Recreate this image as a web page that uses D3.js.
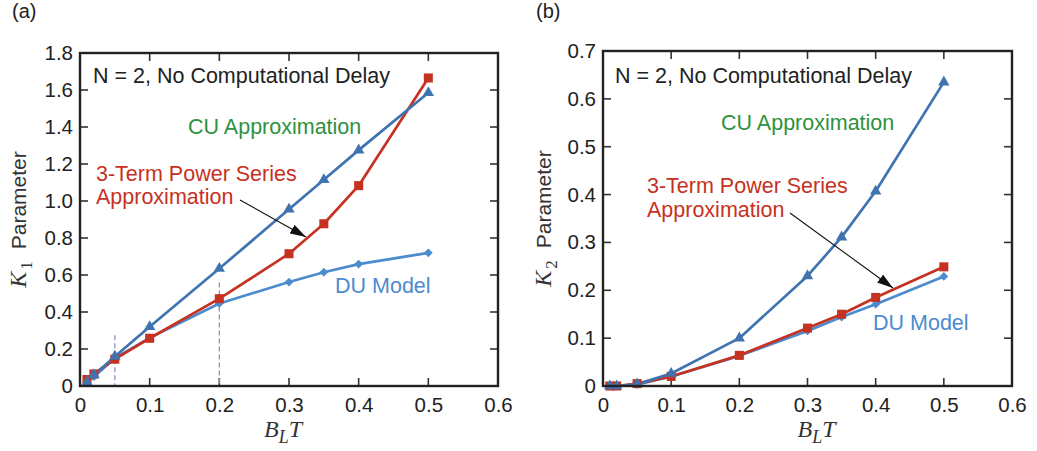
<!DOCTYPE html>
<html>
<head>
<meta charset="utf-8">
<script src="https://cdn.jsdelivr.net/npm/d3@7"></script>
<style>
  html, body { margin: 0; padding: 0; background: #fff; }
  svg { display: block; }
  text { font-family: "Liberation Sans", Arial, Helvetica, sans-serif; }
  .serif { font-family: "Liberation Serif", "Times New Roman", serif; }
</style>
</head>
<body>
<svg id="chart" width="1037" height="451"></svg>
<script>
// Loop bandwidth values (B_L T) shared by both panels
const bandwidth = [0.01, 0.02, 0.05, 0.1, 0.2, 0.3, 0.35, 0.4, 0.5];
const xTicks = [0, 0.1, 0.2, 0.3, 0.4, 0.5, 0.6];

// Panel (a): K1 parameter
const k1CU = [0.02, 0.06, 0.16, 0.32, 0.635, 0.955, 1.115, 1.275, 1.585];
const k1PowerSeries = [0.035, 0.065, 0.145, 0.258, 0.472, 0.715, 0.877, 1.083, 1.665];
const k1DU = [0.02, 0.05, 0.15, 0.26, 0.446, 0.562, 0.615, 0.659, 0.72];
const k1Ticks = [0, 0.2, 0.4, 0.6, 0.8, 1.0, 1.2, 1.4, 1.6, 1.8];
const k1Guides = [{ x: 0.05, top: 0.275 }, { x: 0.2, top: 0.56 }];

// Panel (b): K2 parameter
const k2CU = [0, 0, 0.004, 0.026, 0.1, 0.23, 0.311, 0.407, 0.635];
const k2PowerSeries = [0, 0, 0.005, 0.02, 0.064, 0.121, 0.15, 0.185, 0.249];
const k2DU = [0, 0, 0.003, 0.02, 0.063, 0.115, 0.144, 0.171, 0.229];
const k2Ticks = [0, 0.1, 0.2, 0.3, 0.4, 0.5, 0.6, 0.7];

const COLORS = { cu: "#3f74b0", ps: "#c63222", du: "#4d8bcf", cuText: "#2f9140", guide: "#8c90c4" };

const svg = d3.select("#chart");

// Arrowhead shared by both annotation arrows
svg.append("defs").append("marker")
  .attr("id", "arrowhead")
  .attr("viewBox", "0 0 16 10")
  .attr("refX", 16).attr("refY", 5)
  .attr("markerWidth", 16).attr("markerHeight", 10)
  .attr("markerUnits", "userSpaceOnUse")
  .attr("orient", "auto")
  .append("path").attr("d", "M0,0 L16,5 L0,10 Z").attr("fill", "#111");

const panels = [
  {
    tag: "(a)", tagX: 12,
    box: { left: 80, right: 498, top: 53, bottom: 386 },
    yMax: 1.8, yTicks: k1Ticks, yFmt: d => d === 0 ? "0" : d3.format(".1f")(d),
    cu: k1CU, ps: k1PowerSeries, du: k1DU, guides: k1Guides,
    sub: "1", yLabelX: 26, xLabelShift: -6,
    notes: {
      title: [93, 83], cu: [188, 134], ps: [96, 181], ps2: [96, 204], du: [335, 293],
      arrow: [[240, 200], [306, 237]]
    }
  },
  {
    tag: "(b)", tagX: 536,
    box: { left: 603, right: 1012, top: 51, bottom: 386 },
    yMax: 0.7, yTicks: k2Ticks, yFmt: d => d === 0 ? "0" : d3.format(".1f")(d),
    cu: k2CU, ps: k2PowerSeries, du: k2DU, guides: [],
    sub: "2", yLabelX: 551, xLabelShift: 9,
    notes: {
      title: [615, 83], cu: [721, 130], ps: [647, 193], ps2: [647, 217], du: [873, 330],
      arrow: [[790, 213], [893, 288]]
    }
  }
];

const NOTE_SIZE = 21.5;
const TICK_SIZE = 20.5;

panels.forEach(p => {
  const { left, right, top, bottom } = p.box;
  const x = d3.scaleLinear().domain([0, 0.6]).range([left, right]);
  const y = d3.scaleLinear().domain([0, p.yMax]).range([bottom, top]);
  const g = svg.append("g");

  // Panel tag
  g.append("text").attr("x", p.tagX).attr("y", 18)
    .attr("font-size", 20).attr("fill", "#222").text(p.tag);

  // Tick labels via d3 axes (tick lines drawn separately as inward marks)
  const xAxis = g.append("g").attr("transform", `translate(0,${bottom})`)
    .call(d3.axisBottom(x).tickValues(xTicks).tickSize(0).tickPadding(11)
      .tickFormat(d => d === 0 ? "0" : d3.format(".1f")(d)));
  const yAxis = g.append("g").attr("transform", `translate(${left},0)`)
    .call(d3.axisLeft(y).tickValues(p.yTicks).tickSize(0).tickPadding(7).tickFormat(p.yFmt));
  [xAxis, yAxis].forEach(a => {
    a.select(".domain").remove();
    a.selectAll("text").attr("font-size", TICK_SIZE).attr("fill", "#222")
      .attr("font-family", "'Liberation Sans', Arial, sans-serif");
  });

  // Inward tick marks on all four sides
  const tl = 8;
  const ticks = g.append("g").attr("stroke", "#333").attr("stroke-width", 1.6);
  xTicks.forEach(t => {
    ticks.append("line").attr("x1", x(t)).attr("x2", x(t)).attr("y1", bottom).attr("y2", bottom - tl);
    ticks.append("line").attr("x1", x(t)).attr("x2", x(t)).attr("y1", top).attr("y2", top + tl);
  });
  p.yTicks.forEach(t => {
    ticks.append("line").attr("x1", left).attr("x2", left + tl).attr("y1", y(t)).attr("y2", y(t));
    ticks.append("line").attr("x1", right).attr("x2", right - tl).attr("y1", y(t)).attr("y2", y(t));
  });

  // Dashed guide lines
  p.guides.forEach(gd => {
    g.append("line").attr("x1", x(gd.x)).attr("x2", x(gd.x))
      .attr("y1", y(gd.top)).attr("y2", bottom)
      .attr("stroke", COLORS.guide).attr("stroke-width", 1.3).attr("stroke-dasharray", "5,3");
  });

  // Series lines
  const series = [
    { vals: p.du, color: COLORS.du, shape: "diamond" },
    { vals: p.ps, color: COLORS.ps, shape: "square" },
    { vals: p.cu, color: COLORS.cu, shape: "triangle" }
  ];
  const line = d3.line().x(d => x(d[0])).y(d => y(d[1]));
  series.forEach(s => {
    g.append("path").datum(bandwidth.map((b, i) => [b, s.vals[i]]))
      .attr("d", line).attr("fill", "none")
      .attr("stroke", s.color).attr("stroke-width", 2.7).attr("stroke-linejoin", "round");
  });
  const symbols = {
    diamond: d3.symbol().type(d3.symbolSquare).size(38),
    square: d3.symbol().type(d3.symbolSquare).size(82),
    triangle: d3.symbol().type(d3.symbolTriangle).size(56)
  };
  series.forEach(s => {
    g.append("g").selectAll("path").data(bandwidth.map((b, i) => [b, s.vals[i]]))
      .join("path")
      .attr("d", symbols[s.shape]())
      .attr("transform", d => `translate(${x(d[0])},${y(d[1])})` + (s.shape === "diamond" ? " rotate(45)" : ""))
      .attr("fill", s.color);
  });

  // Frame
  g.append("rect").attr("x", left).attr("y", top)
    .attr("width", right - left).attr("height", bottom - top)
    .attr("fill", "none").attr("stroke", "#222").attr("stroke-width", 2.4);

  // Annotations
  const n = p.notes;
  g.append("text").attr("x", n.title[0]).attr("y", n.title[1])
    .attr("font-size", NOTE_SIZE).attr("fill", "#222").text("N = 2, No Computational Delay");
  g.append("text").attr("x", n.cu[0]).attr("y", n.cu[1])
    .attr("font-size", NOTE_SIZE).attr("fill", COLORS.cuText).text("CU Approximation");
  g.append("text").attr("x", n.ps[0]).attr("y", n.ps[1])
    .attr("font-size", NOTE_SIZE).attr("fill", COLORS.ps).text("3-Term Power Series");
  g.append("text").attr("x", n.ps2[0]).attr("y", n.ps2[1])
    .attr("font-size", NOTE_SIZE).attr("fill", COLORS.ps).text("Approximation");
  g.append("text").attr("x", n.du[0]).attr("y", n.du[1])
    .attr("font-size", NOTE_SIZE).attr("fill", COLORS.du).text("DU Model");
  g.append("line")
    .attr("x1", n.arrow[0][0]).attr("y1", n.arrow[0][1])
    .attr("x2", n.arrow[1][0]).attr("y2", n.arrow[1][1])
    .attr("stroke", "#111").attr("stroke-width", 1.1).attr("marker-end", "url(#arrowhead)");

  // Axis titles
  const cx = (left + right) / 2 + p.xLabelShift;
  const xl = g.append("text").attr("x", cx).attr("y", 437)
    .attr("text-anchor", "middle").attr("class", "serif").attr("fill", "#333");
  xl.append("tspan").attr("font-style", "italic").attr("font-size", 24).text("B");
  xl.append("tspan").attr("font-style", "italic").attr("font-size", 18).attr("dy", 6).text("L");
  xl.append("tspan").attr("font-style", "italic").attr("font-size", 24).attr("dy", -6).text("T");

  const cy = (top + bottom) / 2;
  const yl = g.append("text")
    .attr("transform", `translate(${p.yLabelX},${cy}) rotate(-90)`)
    .attr("text-anchor", "middle").attr("fill", "#333");
  yl.append("tspan").attr("class", "serif").attr("font-style", "italic").attr("font-size", 24).text("K");
  yl.append("tspan").attr("class", "serif").attr("font-size", 17).attr("dy", 6).attr("dx", 2).text(p.sub);
  yl.append("tspan").attr("font-size", 21).attr("dy", -6).attr("dx", 12).text("Parameter");
});
</script>
</body>
</html>
